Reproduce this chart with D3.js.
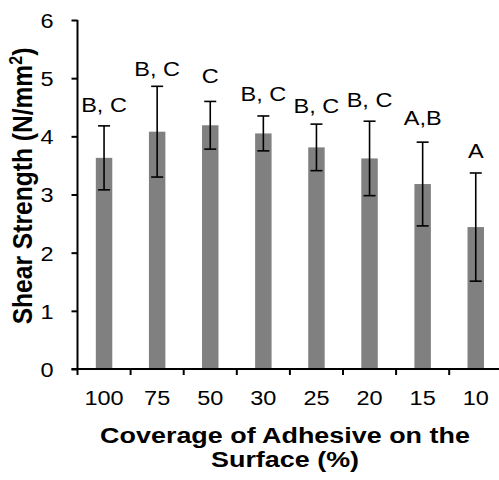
<!DOCTYPE html>
<html>
<head>
<meta charset="utf-8">
<script src="https://cdn.jsdelivr.net/npm/d3@7"></script>
<style>
  html, body { margin: 0; padding: 0; background: #fff; }
  svg { display: block; }
  text { font-family: "Liberation Sans", Arial, sans-serif; fill: #000; }
</style>
</head>
<body>
<svg id="chart" width="499" height="480"></svg>
<script>
// ---- data ----
const categories = ["100", "75", "50", "30", "25", "20", "15", "10"];
const means = [3.63, 4.08, 4.19, 4.05, 3.81, 3.62, 3.18, 2.44];
const errors = [0.55, 0.78, 0.41, 0.30, 0.40, 0.64, 0.72, 0.93];
const groupLabels = ["B, C", "B, C", "C", "B, C", "B, C", "B, C", "A,B", "A"];
const groupLabelLevels = [4.42, 5.04, 4.91, 4.60, 4.40, 4.51, 4.19, 3.63];
const yTicks = [0, 1, 2, 3, 4, 5, 6];
const xTitleLines = ["Coverage of Adhesive on the", "Surface (%)"];
const yTitleParts = ["Shear Strength (N/mm", "2", ")"];

// ---- layout ----
const SX = 1.12;           // horizontal text stretch seen in reference
const FS = "21px";
const x0 = 77.5, x1 = 502.3, yBase = 369, yTop = 20;
const svg = d3.select("#chart");

const x = d3.scaleBand().domain(categories).range([x0, x1])
  .paddingInner(0.69).paddingOuter(0.345);
const xCell = d3.scaleBand().domain(categories).range([x0, x1]).padding(0);
const y = d3.scaleLinear().domain([0, 6]).range([yBase, yTop]);

// bars
svg.append("g").selectAll("rect").data(means).join("rect")
  .attr("x", (d, i) => x(categories[i]))
  .attr("y", d => y(d))
  .attr("width", x.bandwidth())
  .attr("height", d => y(0) - y(d))
  .attr("fill", "#808080");

// error bars
const cap = 6;
const eb = svg.append("g").attr("stroke", "#000").attr("stroke-width", 1.6);
means.forEach((m, i) => {
  const cx = x(categories[i]) + x.bandwidth() / 2;
  const hi = y(m + errors[i]), lo = y(m - errors[i]);
  eb.append("line").attr("x1", cx).attr("x2", cx).attr("y1", hi).attr("y2", lo);
  eb.append("line").attr("x1", cx - cap).attr("x2", cx + cap).attr("y1", hi).attr("y2", hi);
  eb.append("line").attr("x1", cx - cap).attr("x2", cx + cap).attr("y1", lo).attr("y2", lo);
});

// group letters
svg.append("g").selectAll("text").data(groupLabels).join("text")
  .attr("text-anchor", "middle")
  .attr("font-size", FS)
  .attr("transform", (d, i) =>
    `translate(${x(categories[i]) + x.bandwidth() / 2},${y(groupLabelLevels[i])}) scale(${SX},1)`)
  .text(d => d);

// y axis
const gy = svg.append("g").attr("transform", `translate(${x0},0)`)
  .call(d3.axisLeft(y).tickValues(yTicks).tickFormat(d3.format("d")).tickSize(6).tickPadding(18));
gy.select(".domain").attr("stroke", "#000").attr("stroke-width", 2)
  .attr("d", `M0,${yTop}V${yBase}`);
gy.selectAll(".tick line").attr("stroke", "#000").attr("stroke-width", 2);
gy.selectAll(".tick text").each(function() {
  const t = d3.select(this);
  const tx = +t.attr("x");
  t.attr("x", 0).attr("dy", "0.35em")
    .attr("transform", `translate(${tx},0) scale(${SX},1)`)
    .attr("font-size", FS).attr("font-family", null).attr("fill", "#000");
});

// x axis
const gx = svg.append("g").attr("transform", `translate(0,${yBase})`)
  .call(d3.axisBottom(x).tickSize(0).tickPadding(0));
gx.select(".domain").attr("stroke", "#000").attr("stroke-width", 2)
  .attr("d", `M${x0 - 6},0H499`);
gx.selectAll(".tick text").each(function() {
  const t = d3.select(this);
  t.attr("y", 0).attr("dy", null)
    .attr("transform", `translate(0,36) scale(${SX},1)`)
    .attr("font-size", FS).attr("font-family", null).attr("fill", "#000");
});
// category boundary ticks
gx.append("g").selectAll("line").data(categories.concat([null])).join("line")
  .attr("x1", (d, i) => i < categories.length ? xCell(d) : xCell(categories[i - 1]) + xCell.bandwidth())
  .attr("x2", (d, i) => i < categories.length ? xCell(d) : xCell(categories[i - 1]) + xCell.bandwidth())
  .attr("y1", 0).attr("y2", 6)
  .attr("stroke", "#000").attr("stroke-width", 2);

// x title
svg.append("g").selectAll("text").data(xTitleLines).join("text")
  .attr("text-anchor", "middle")
  .attr("font-size", "22.5px").attr("font-weight", "bold")
  .attr("transform", (d, i) => `translate(285,${443 + i * 24}) scale(1.196,1)`)
  .text(d => d);

// y title with superscript
const yt = svg.append("text")
  .attr("text-anchor", "middle")
  .attr("font-size", "24.6px").attr("font-weight", "bold")
  .attr("transform", `translate(32,186) scale(1.13,1) rotate(-90)`);
yt.append("tspan").text(yTitleParts[0]);
yt.append("tspan").attr("font-size", "16px").attr("dy", "-9").text(yTitleParts[1]);
yt.append("tspan").attr("dy", "9").text(yTitleParts[2]);
</script>
</body>
</html>
